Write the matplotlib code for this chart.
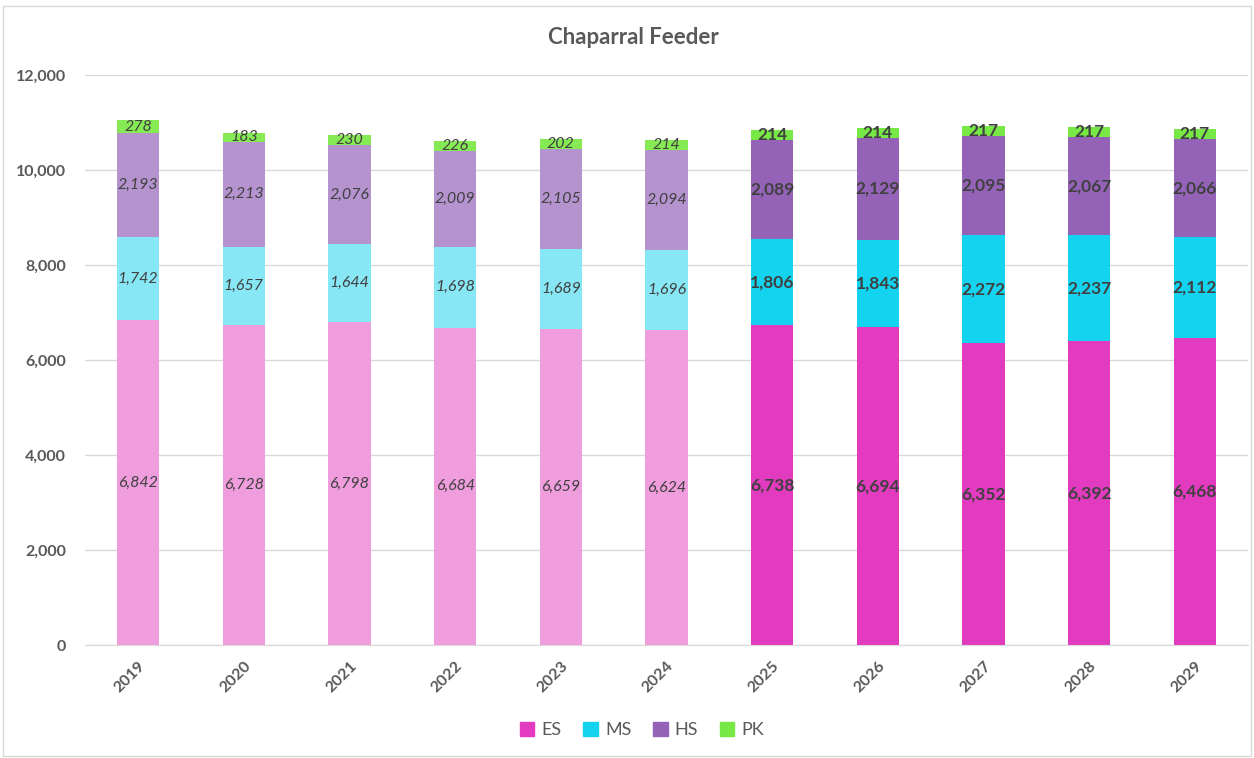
import numpy as np
import matplotlib
matplotlib.use("Agg")
import matplotlib.pyplot as plt
from matplotlib.patches import Rectangle
from matplotlib.ticker import FuncFormatter

plt.rcParams['font.family'] = ['Lato', 'DejaVu Sans']

years = ["2019", "2020", "2021", "2022", "2023", "2024",
         "2025", "2026", "2027", "2028", "2029"]
es = [6842, 6728, 6798, 6684, 6659, 6624, 6738, 6694, 6352, 6392, 6468]
ms = [1742, 1657, 1644, 1698, 1689, 1696, 1806, 1843, 2272, 2237, 2112]
hs = [2193, 2213, 2076, 2009, 2105, 2094, 2089, 2129, 2095, 2067, 2066]
pk = [278, 183, 230, 226, 202, 214, 214, 214, 217, 217, 217]
n_actual = 6  # first six years are actuals, rest projected

series = [("ES", es), ("MS", ms), ("HS", hs), ("PK", pk)]
dark = {"ES": "#E23BBF", "MS": "#14D3EE", "HS": "#9463B8", "PK": "#78E846"}
light = {"ES": "#F09DDD", "MS": "#88E7F5", "HS": "#B493CF", "PK": "#86EA55"}

fig = plt.figure(figsize=(12.54, 7.58), dpi=100)
ax = fig.add_axes([0.068, 0.149, 0.927, 0.752])

x = np.arange(len(years))
bottom = np.zeros(len(years))
for name, vals in series:
    vals = np.array(vals)
    colors = [light[name] if i < n_actual else dark[name] for i in range(len(years))]
    ax.bar(x, vals, 0.4, bottom=bottom, color=colors, zorder=3, label=name)
    for i, v in enumerate(vals):
        yc = bottom[i] + v / 2
        if i < n_actual:
            ax.text(x[i], yc, f"{v:,}", ha="center", va="center", fontsize=11.5,
                    style="italic", color="#404040", zorder=4)
        else:
            ax.text(x[i], yc, f"{v:,}", ha="center", va="center", fontsize=12.5,
                    fontweight="bold", color="#404040", zorder=4)
    bottom += vals

ax.set_xlim(-0.5, len(years) - 0.5)
ax.set_ylim(0, 12000)
ax.set_yticks(np.arange(0, 12001, 2000))
ax.yaxis.set_major_formatter(FuncFormatter(lambda v, p: f"{int(v):,}"))
ax.set_xticks(x)
ax.set_xticklabels(years, rotation=45, ha="right", rotation_mode="anchor")
ax.tick_params(axis="both", length=0, labelsize=11.5, labelcolor="#595959")
ax.tick_params(axis="y", pad=14)
ax.tick_params(axis="x", pad=10)
for lbl in ax.get_xticklabels() + ax.get_yticklabels():
    lbl.set_fontweight("bold")
ax.grid(axis="y", color="#D9D9D9", linewidth=1, zorder=0)
for s in ["top", "right", "left"]:
    ax.spines[s].set_visible(False)
ax.spines["bottom"].set_color("#D9D9D9")
ax.spines["bottom"].set_zorder(3)

fig.text(0.505, 0.95, "Chaparral Feeder", ha="center", va="center",
         fontsize=16, fontweight="bold", color="#595959")

handles = [Rectangle((0, 0), 1, 1, color=dark[n]) for n, _ in series]
fig.legend(handles, [n for n, _ in series], loc="center", bbox_to_anchor=(0.512, 0.037),
           ncol=4, frameon=False, fontsize=13, labelcolor="#595959",
           handlelength=0.8, handleheight=0.8, handletextpad=0.4, columnspacing=1.2)

fig.patches.append(Rectangle((0.002, 0.002), 0.996, 0.99, transform=fig.transFigure,
                             fill=False, edgecolor="#D9D9D9", linewidth=1))

fig.savefig("out.png", dpi=100)
